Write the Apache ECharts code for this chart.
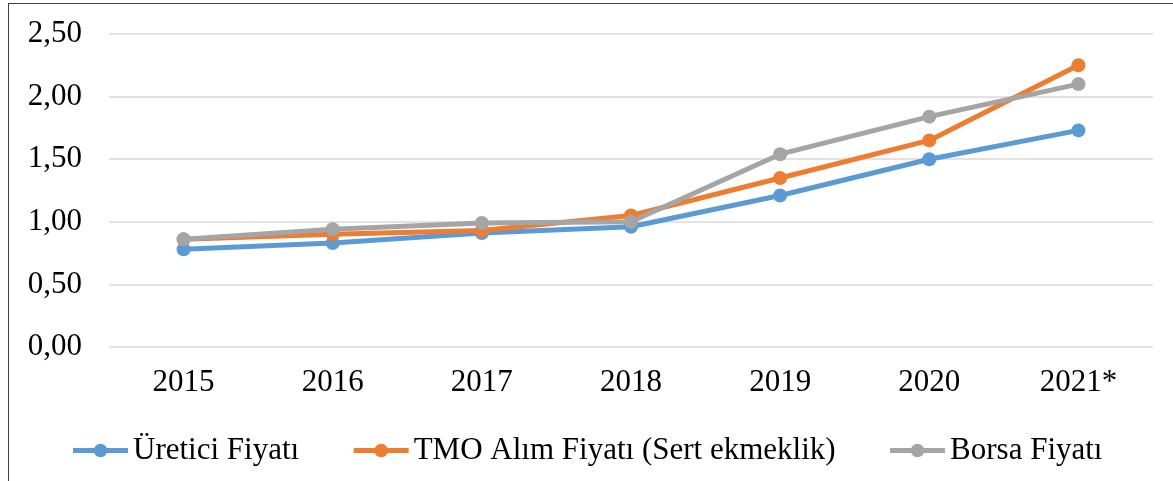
<!DOCTYPE html>
<html>
<head>
<meta charset="utf-8">
<script src="https://cdn.jsdelivr.net/npm/echarts@6/dist/echarts.min.js"></script>
<style>
	html, body { margin: 0; padding: 0; background: #fff; }
	#wrap { position: relative; width: 1173px; height: 481px; overflow: hidden; }
	#chart { width: 1173px; height: 481px; }
	#frame {
		position: absolute; left: 8px; top: 3px; width: 1300px; height: 600px;
		border-left: 1.5px solid #404040; border-top: 1.5px solid #404040;
		pointer-events: none;
	}
</style>
</head>
<body>
<div id="wrap">
	<div id="chart"></div>
	<div id="frame"></div>
</div>
<script>
var years = ['2015', '2016', '2017', '2018', '2019', '2020', '2021*'];
var uretici = [0.78, 0.83, 0.91, 0.96, 1.21, 1.50, 1.73];
var tmo = [0.86, 0.90, 0.93, 1.05, 1.35, 1.65, 2.25];
var borsa = [0.86, 0.94, 0.99, 1.00, 1.54, 1.84, 2.10];
var names = ['Üretici Fiyatı', 'TMO Alım Fiyatı (Sert ekmeklik)', 'Borsa Fiyatı'];
var colors = ['#5B9BD5', '#ED7D31', '#A5A5A5'];

var font = 'Liberation Serif';

function mkSeries(name, data, color) {
	return {
		name: name,
		type: 'line',
		data: data,
		symbol: 'circle',
		symbolSize: 14,
		itemStyle: { color: color },
		lineStyle: { color: color, width: 5 },
		emphasis: { disabled: true },
		animation: false
	};
}

var ec = echarts.init(document.getElementById('chart'));
ec.setOption({
	color: colors,
	grid: { left: 109, right: 20, top: 34, bottom: 134 },
	xAxis: {
		type: 'category',
		data: years,
		boundaryGap: true,
		axisLine: { show: false },
		axisTick: { show: false },
		axisLabel: { color: '#000', fontFamily: font, fontSize: 31, margin: 20 }
	},
	yAxis: {
		type: 'value',
		min: 0,
		max: 2.5,
		interval: 0.5,
		axisLine: { show: false },
		axisTick: { show: false },
		splitLine: { lineStyle: { color: '#D9D9D9', width: 1.5 } },
		axisLabel: {
			color: '#000', fontFamily: font, fontSize: 31, margin: 27,
			formatter: function (v) { return v.toFixed(2).replace('.', ','); }
		}
	},
	legend: {
		data: names,
		left: 'center',
		top: 430,
		itemWidth: 55,
		itemHeight: 17,
		itemGap: 52,
		lineStyle: { width: 5 },
		textStyle: { color: '#000', fontFamily: font, fontSize: 31 }
	},
	series: [
		mkSeries(names[0], uretici, colors[0]),
		mkSeries(names[1], tmo, colors[1]),
		mkSeries(names[2], borsa, colors[2])
	]
});
</script>
</body>
</html>
